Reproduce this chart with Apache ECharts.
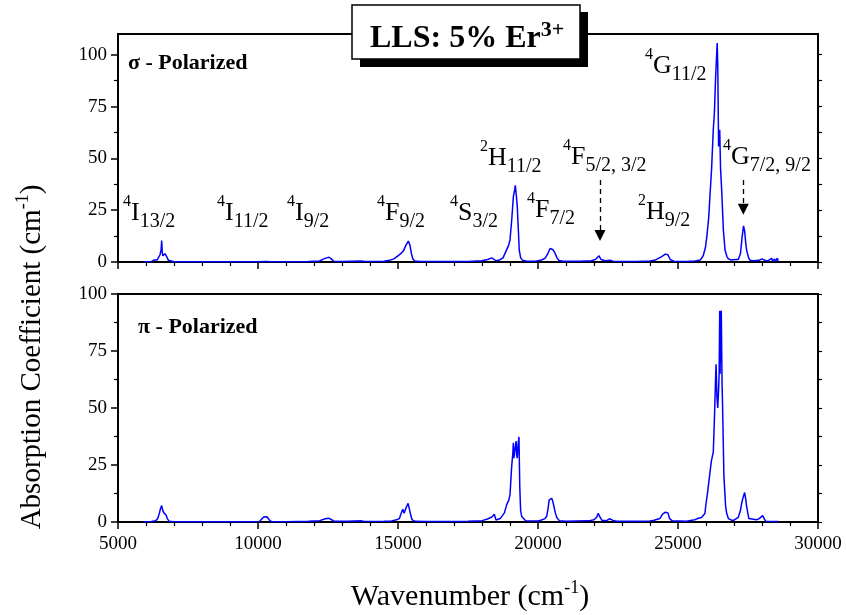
<!DOCTYPE html>
<html><head><meta charset="utf-8">
<script src="https://cdn.jsdelivr.net/npm/echarts@6.0.0/dist/echarts.min.js"></script>
<style>html,body{margin:0;padding:0;background:#fff}#c{width:846px;height:615px}</style>
</head><body><div id="c"></div>
<script>
// ---------- DATA ----------
const sigmaWn = [5900,6000,6200,6300,6400,6450,6500,6540,6560,6580,6600,6640,6680,6720,6760,6800,6860,7000,7500,8000,9000,10000,10250,10310,10370,11000,11800,12200,12350,12450,12540,12620,12700,13000,13700,13800,14300,14500,14700,14850,14950,15100,15200,15280,15370,15430,15480,15530,15600,15800,16500,17000,17500,18000,18200,18350,18420,18500,18600,18750,18850,18950,19000,19060,19120,19170,19190,19220,19260,19300,19330,19380,19450,19600,19900,20100,20250,20350,20430,20470,20530,20600,20680,20750,20900,21500,21900,22050,22180,22250,22400,22600,22680,23000,23500,24000,24200,24400,24550,24640,24720,24850,25300,25600,25800,25900,25980,26030,26100,26140,26200,26260,26300,26340,26380,26400,26420,26450,26470,26490,26520,26560,26620,26680,26750,26800,26900,26970,27060,27090,27150,27230,27290,27340,27380,27420,27450,27520,27580,27700,27900,28000,28050,28100,28200,28350,28380,28450,28480,28550,28580];
const sigmaAbs = [0,0.1,0.3,1.0,1.0,1.5,3.5,6,10.3,5,3.0,3.2,4.0,3.5,2.0,0.8,0.2,0.1,0.1,0.1,0.1,0.1,0.3,0.8,0.2,0.1,0.2,0.5,1.5,2.0,2.3,1.5,0.4,0.2,0.5,0.2,0.2,0.4,0.8,1.5,2.5,4.0,5.5,8,10.1,8,4,1.5,0.5,0.2,0.2,0.2,0.3,0.6,1.2,2.0,2.5,0.6,0.8,2.0,5.0,8.0,10.6,20,31.5,35,37,33,26.7,15,5.8,2,0.8,0.4,0.4,0.8,1.8,4,6.5,7.3,6,4.5,2,0.7,0.4,0.4,0.6,1.2,3.0,1.2,0.6,0.8,0.4,0.3,0.3,0.5,1.0,2.5,3.8,3.5,1.2,0.4,0.3,0.5,1.0,3,7,12.2,22,31.6,45,63.8,72,88,100,105.6,95,55.7,61,63.8,45,34.8,15.5,5.8,2.5,1.5,1.0,1.0,1.2,1.8,1.2,4.0,12,17.4,15,9,5.8,2,0.8,0.6,0.8,1.5,2.2,0.8,0.5,1.8,0.3,1.5,0.3,1.8,0.2];

const piWn = [5900,6000,6200,6350,6420,6480,6520,6560,6600,6640,6680,6720,6760,6830,7000,8000,9000,9800,10050,10120,10200,10250,10320,10400,10480,11000,11800,12200,12350,12450,12540,12630,12720,13200,13700,13800,14500,14770,14950,15050,15120,15170,15220,15280,15360,15400,15450,15500,15600,16000,17000,17500,18000,18200,18350,18440,18500,18650,18800,18880,18960,19000,19060,19100,19120,19140,19170,19190,19220,19240,19260,19290,19320,19350,19380,19420,19560,20000,20100,20250,20310,20360,20400,20450,20490,20530,20570,20620,20670,20770,21000,21800,22000,22100,22150,22200,22280,22450,22550,22600,22680,22800,23500,24000,24150,24350,24450,24550,24640,24700,24800,25300,25600,25700,25840,25960,26000,26050,26120,26190,26230,26260,26300,26340,26360,26390,26420,26450,26470,26490,26505,26515,26530,26545,26560,26575,26590,26640,26700,26740,26800,26910,27000,27150,27230,27270,27330,27380,27420,27450,27530,27600,27810,27900,27960,28020,28080,28130,28300,28580];
const piAbs = [0,0.1,0.2,0.6,1.5,4.0,6.0,7.2,5.0,4.0,3.8,3.0,1.5,0.3,0.1,0.1,0.1,0.1,0.2,1.0,2.2,2.8,2.3,1.0,0.2,0.1,0.3,0.6,1.2,1.5,1.6,1.0,0.3,0.3,0.5,0.2,0.3,0.4,1.0,1.5,4.0,5.6,3.8,6,8.2,6,3.4,1.0,0.3,0.2,0.2,0.3,0.6,1.3,2.2,3.4,0.9,1.5,4,7.5,9.7,12,24.4,30,34.7,28,27.3,33,35.5,29,28,34,37.3,15,5,2.4,0.5,0.4,0.8,1.5,2.5,6,9.7,9.5,10.4,9,6.8,4,2,0.5,0.3,0.5,1.0,2.2,3.8,2.5,0.8,0.6,1.4,1.6,0.7,0.3,0.3,0.4,0.8,1.5,3.5,4.3,4.0,1.5,0.5,0.3,1.0,1.5,2,3.7,8,12.3,13,26.6,29,30.5,45,62,69.2,55,50,58,65.5,92.6,65,92.6,70,92.6,92.6,60,52,20,7,3.7,1.5,0.8,0.8,2,5,8,11,12.9,10,6.9,1.5,0.8,1,1.5,2.2,2.8,1.5,0.3,0.2,0.2];

const xTicks = [5000,10000,15000,20000,25000,30000];
const yTicks = [0,25,50,75,100];
const yMinorTicks = [12.5,37.5,62.5,87.5];
const termSup = ['4','4','4','4','4','2','4','4','2','4','4'];
const termLetter = ['I','I','I','F','S','H','F','F','H','G','G'];
const termSub = ['13/2','11/2','9/2','9/2','3/2','11/2','7/2','5/2, 3/2','9/2','11/2','7/2, 9/2'];
const arrowWn = [22214, 27332];
const arrowFrom = [39.6, 39.6];
const arrowTo = [12.8, 25.4];

// ---------- LAYOUT ----------
const termPos = [[123,194],[217,194],[287,194],[377,194],[450,194],[480,139],[527,191],[563,138],[638,193],[645,47],[723,138]];
const FF = 'Liberation Serif';

const richTerm = {
  s: {fontSize:16, lineHeight:26, verticalAlign:'top', fontFamily:FF, fill:'#000'},
  m: {fontSize:26, lineHeight:38, verticalAlign:'middle', fontFamily:FF, fill:'#000'},
  b: {fontSize:20, lineHeight:16, verticalAlign:'bottom', fontFamily:FF, fill:'#000'}
};

const zip = (a,b) => a.map((v,i)=>[v,b[i]]);

const chart = echarts.init(document.getElementById('c'), null, {renderer:'canvas'});

function xAxisCfg(gi, showLabel){
  return {
    type:'value', gridIndex:gi, min:5000, max:30000, interval:5000, position:'bottom',
    axisLine:{show:true, onZero:false, lineStyle:{color:'#000', width:2}},
    axisTick:{show:true, inside:false, length:7, lineStyle:{color:'#000', width:1.5}},
    minorTick:{show:true, splitNumber:5, length:4, lineStyle:{color:'#000', width:1.2}},
    splitLine:{show:false}, minorSplitLine:{show:false},
    axisLabel:{show:showLabel, fontFamily:FF, fontSize:19, color:'#000', margin:13,
      customValues: xTicks, formatter: v => String(v)}
  };
}
function yAxesCfg(gi, max){
  return [
    { type:'value', gridIndex:gi, min:0, max:max, interval:25, position:'left',
      axisLine:{show:true, lineStyle:{color:'#000', width:2}},
      axisTick:{show:true, inside:false, length:7, lineStyle:{color:'#000', width:1.5}, customValues: yTicks},
      splitLine:{show:false},
      axisLabel:{show:true, fontFamily:FF, fontSize:19, color:'#000', margin:11, customValues: yTicks, formatter: v => String(v)}
    },
    { type:'value', gridIndex:gi, min:0, max:max, position:'left',
      axisLine:{show:false},
      axisTick:{show:true, inside:false, length:4, lineStyle:{color:'#000', width:1.2}, customValues: yMinorTicks},
      splitLine:{show:false}, axisLabel:{show:false}
    },
    { type:'value', gridIndex:gi, min:0, max:max, position:'right',
      axisLine:{show:true, lineStyle:{color:'#000', width:2}},
      axisTick:{show:true, inside:false, length:4, lineStyle:{color:'#000', width:1.2}, customValues: yTicks.concat(yMinorTicks)},
      splitLine:{show:false}, axisLabel:{show:false}
    }
  ];
}

const graphics = [];
// title box shadow + box
graphics.push({type:'rect', shape:{x:360, y:12, width:228, height:55}, style:{fill:'#000'}, z:10});
graphics.push({type:'rect', shape:{x:352, y:5, width:228, height:54}, style:{fill:'#fff', stroke:'#000', lineWidth:1.5}, z:11});
graphics.push({type:'text', x:370, y:19, z:12, style:{
  text:'{m|LLS: 5% Er}{s|3+}', align:'left', verticalAlign:'top',
  rich:{ m:{fontSize:32, fontWeight:'bold', lineHeight:40, verticalAlign:'middle', fontFamily:FF, fill:'#000'},
         s:{fontSize:22, fontWeight:'bold', lineHeight:14, verticalAlign:'top', fontFamily:FF, fill:'#000'} }
}});
// panel labels
graphics.push({type:'text', x:128, y:63, z:12, style:{text:'σ - Polarized', font:'bold 22px "Liberation Serif"', fill:'#000', align:'left', verticalAlign:'middle'}});
graphics.push({type:'text', x:138, y:327, z:12, style:{text:'π - Polarized', font:'bold 22px "Liberation Serif"', fill:'#000', align:'left', verticalAlign:'middle'}});
// term labels
termSup.forEach((s,i)=>{
  graphics.push({type:'text', x:termPos[i][0], y:termPos[i][1], z:12, style:{
    text:'{s|'+s+'}{m|'+termLetter[i]+'}{b|'+termSub[i]+'}', align:'left', verticalAlign:'top', rich:richTerm }});
});
// axis titles
graphics.push({type:'text', x:470, y:597, z:12, style:{
  text:'{m|Wavenumber (cm}{s|-1}{m|)}', align:'center', verticalAlign:'middle',
  rich:{ m:{fontSize:30, lineHeight:36, verticalAlign:'middle', fontFamily:FF, fill:'#000'},
         s:{fontSize:18, lineHeight:22, verticalAlign:'top', fontFamily:FF, fill:'#000'} }
}});
graphics.push({type:'text', x:32, y:357, rotation:Math.PI/2, z:12, style:{
  text:'{m|Absorption Coefficient (cm}{s|-1}{m|)}', align:'center', verticalAlign:'middle',
  rich:{ m:{fontSize:29, lineHeight:36, verticalAlign:'middle', fontFamily:FF, fill:'#000'},
         s:{fontSize:18, lineHeight:22, verticalAlign:'top', fontFamily:FF, fill:'#000'} }
}});

const option = {
  animation:false,
  backgroundColor:'#fff',
  textStyle:{fontFamily:FF},
  grid:[
    {left:118, right:28, top:34, height:228, show:true, borderColor:'#000', borderWidth:2, backgroundColor:'transparent'},
    {left:118, right:28, top:294, height:228, show:true, borderColor:'#000', borderWidth:2, backgroundColor:'transparent'}
  ],
  xAxis:[ xAxisCfg(0,false), xAxisCfg(1,true) ],
  yAxis: yAxesCfg(0,110).concat(yAxesCfg(1,100)),
  series:[
    { type:'line', xAxisIndex:0, yAxisIndex:0, data:zip(sigmaWn, sigmaAbs), showSymbol:false, symbol:'none',
      lineStyle:{color:'#0000ff', width:1.5}, emphasis:{disabled:true}, silent:true, z:5,
      markLine:{ silent:true, animation:false, symbol:['none','triangle'], symbolSize:11,
        label:{show:false}, emphasis:{disabled:true},
        lineStyle:{type:[5,4], color:'#000', width:1.3},
        itemStyle:{color:'#000'},
        data: arrowWn.map((w,i)=>[{coord:[w, arrowFrom[i]]},{coord:[w, arrowTo[i]]}]) }
    },
    { type:'line', xAxisIndex:1, yAxisIndex:3, data:zip(piWn, piAbs), showSymbol:false, symbol:'none',
      lineStyle:{color:'#0000ff', width:1.5}, emphasis:{disabled:true}, silent:true, z:5 }
  ],
  graphic: graphics
};
chart.setOption(option);
</script>
</body></html>
